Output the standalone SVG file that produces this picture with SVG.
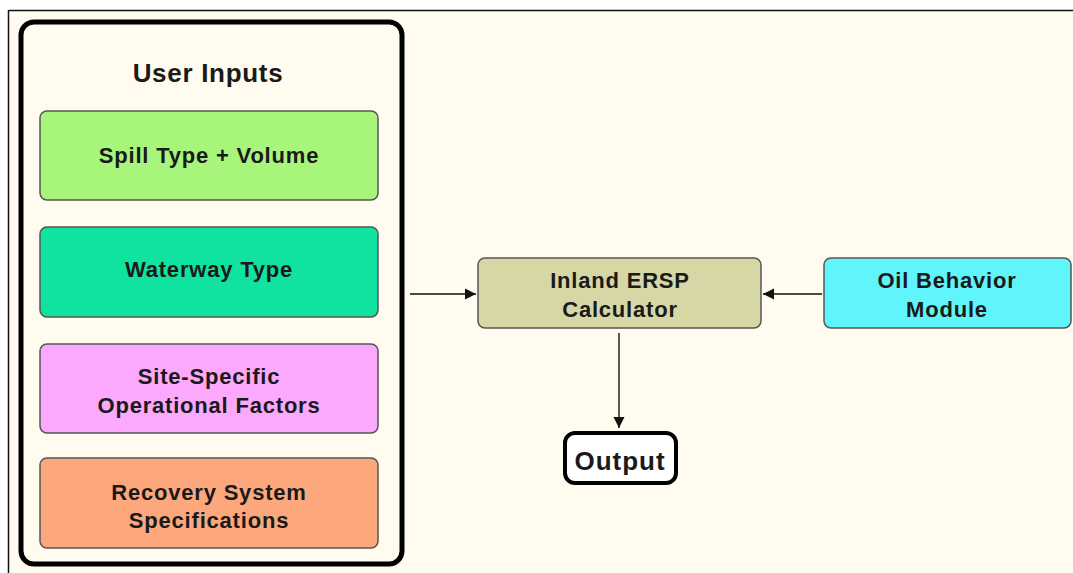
<svg xmlns="http://www.w3.org/2000/svg" width="1073" height="573" viewBox="0 0 1073 573">
<defs>
<marker id="ah" markerWidth="12" markerHeight="12" refX="11" refY="6" orient="auto" markerUnits="userSpaceOnUse">
<path d="M0,0.5 L11,6 L0,11.5 Z" fill="#111"/>
</marker>
<style>
.t{font-family:"Liberation Sans",Arial,sans-serif;font-weight:bold;fill:#1a1a1a;text-anchor:middle;font-size:22px;letter-spacing:0.8px}
.big{font-size:26px;letter-spacing:0.7px}
.box{stroke:#555;stroke-width:1.5}
.conn{stroke:#111;stroke-width:1.4;fill:none}
</style>
</defs>
<rect x="0" y="0" width="1073" height="573" fill="#ffffff"/>
<rect x="9" y="11" width="1064" height="562" fill="#fffbef"/>
<line x1="9" y1="10.5" x2="1073" y2="10.5" stroke="#111" stroke-width="1.5"/>
<line x1="8.5" y1="10" x2="8.5" y2="573" stroke="#111" stroke-width="1.5"/>
<g id="user-inputs">
<rect x="21" y="22" width="381" height="542" rx="13" fill="none" stroke="#000" stroke-width="5"/>
<text class="t big" x="208" y="82">User Inputs</text>
</g>
<g id="spill-type">
<rect class="box" x="40" y="111" width="338" height="89" rx="7" fill="#a8f57c"/>
<text class="t" x="209" y="163">Spill Type + Volume</text>
</g>
<g id="waterway-type">
<rect class="box" x="40" y="227" width="338" height="90" rx="7" fill="#10e3a0"/>
<text class="t" x="209" y="277">Waterway Type</text>
</g>
<g id="site-specific">
<rect class="box" x="40" y="344" width="338" height="89" rx="7" fill="#fca8fc"/>
<text class="t" x="209" y="384">Site-Specific</text>
<text class="t" x="209" y="413">Operational Factors</text>
</g>
<g id="recovery-system">
<rect class="box" x="40" y="458" width="338" height="90" rx="7" fill="#fca87c"/>
<text class="t" x="209" y="500">Recovery System</text>
<text class="t" x="209" y="528">Specifications</text>
</g>
<g id="calculator">
<rect class="box" x="478" y="258" width="283" height="70" rx="7" fill="#d7d7a6"/>
<text class="t" x="620" y="288">Inland ERSP</text>
<text class="t" x="620" y="317">Calculator</text>
</g>
<g id="oil-behavior">
<rect class="box" x="824" y="258" width="247" height="70" rx="7" fill="#60f5fb"/>
<text class="t" x="947" y="288">Oil Behavior</text>
<text class="t" x="947" y="317">Module</text>
</g>
<g id="output">
<rect x="565" y="433" width="111" height="50" rx="10" fill="#ffffff" stroke="#000" stroke-width="4"/>
<text class="t big" x="620" y="470" style="letter-spacing:1px">Output</text>
</g>
<g id="connectors">
<line class="conn" x1="410" y1="294" x2="476" y2="294" marker-end="url(#ah)"/>
<line class="conn" x1="822" y1="294" x2="763" y2="294" marker-end="url(#ah)"/>
<line class="conn" x1="619" y1="333" x2="619" y2="428" marker-end="url(#ah)"/>
</g>
</svg>
